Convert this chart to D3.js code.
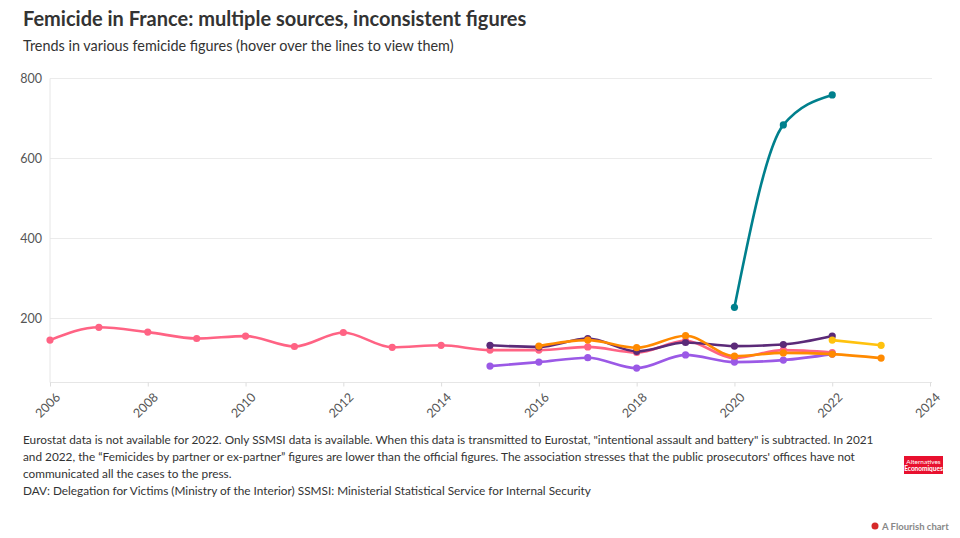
<!DOCTYPE html>
<html>
<head>
<meta charset="utf-8">
<script src="https://cdn.jsdelivr.net/npm/d3@7.9.0/dist/d3.min.js"></script>
<style>
  body { margin: 0; background: #fff; font-family: Lato, "Open Sans", sans-serif; }
  svg text { font-family: Lato, "Open Sans", sans-serif; }
</style>
</head>
<body>
<svg id="chart" width="960" height="538"></svg>
<script>
// ticks
const xTicks = [2006, 2008, 2010, 2012, 2014, 2016, 2018, 2020, 2022, 2024];
const yTicks = [200, 400, 600, 800];

// series values
const pinkYears = d3.range(2006, 2023);
const pinkValues = [146, 178, 166, 150, 156, 130, 165, 128, 133, 121, 121, 129, 115, 144, 101, 121, 115];
const darkYears = d3.range(2015, 2023);
const darkValues = [133, 129, 150, 118, 140, 131, 135, 156];
const purpleYears = d3.range(2015, 2023);
const purpleValues = [81, 91, 102, 76, 109, 91, 96, 111];
const orangeYears = d3.range(2016, 2024);
const orangeValues = [131, 146, 127, 157, 106, 114, 111, 101];
const yellowYears = [2022, 2023];
const yellowValues = [146, 133];
const tealYears = [2020, 2021, 2022];
const tealValues = [228, 684, 759];

const series = [
  { color: "#ff6384", years: pinkYears, values: pinkValues },
  { color: "#9b59e6", years: purpleYears, values: purpleValues },
  { color: "#5b2a78", years: darkYears, values: darkValues },
  { color: "#ff8a00", years: orangeYears, values: orangeValues },
  { color: "#ffc20e", years: yellowYears, values: yellowValues },
  { color: "#00808d", years: tealYears, values: tealValues },
];

const svg = d3.select("#chart");

// titles
svg.append("text").attr("x", 23).attr("y", 26)
  .attr("font-size", 20).attr("font-weight", 700).attr("fill", "#333")
  .text("Femicide in France: multiple sources, inconsistent figures");
svg.append("text").attr("x", 23).attr("y", 51)
  .attr("font-size", 14.4).attr("fill", "#333")
  .text("Trends in various femicide figures (hover over the lines to view them)");

const plotLeft = 50, plotRight = 930, plotTop = 78.5, plotBottom = 382.5;

let x = d3.scaleLinear().domain([2006, 2024]).range([plotLeft, plotRight]);
let y = d3.scaleLinear().domain([40, 800]).range([plotBottom, plotTop]);

// gridlines
svg.append("g").selectAll("line").data(yTicks).join("line")
  .attr("x1", plotLeft).attr("x2", plotRight + 2)
  .attr("y1", d => y(d)).attr("y2", d => y(d))
  .attr("stroke", "#ebebeb").attr("stroke-width", 1);
svg.append("line").attr("x1", plotLeft).attr("x2", plotRight + 2)
  .attr("y1", plotBottom).attr("y2", plotBottom).attr("stroke", "#e6e6e6");
svg.append("line").attr("x1", plotLeft).attr("x2", plotLeft)
  .attr("y1", plotTop).attr("y2", plotBottom).attr("stroke", "#e6e6e6");

// y axis
let yAxis = svg.append("g").attr("transform", `translate(${plotLeft},0)`)
  .call(d3.axisLeft(y).tickValues(yTicks).tickSize(0).tickPadding(8));
yAxis.select(".domain").remove();
yAxis.selectAll("text").attr("font-size", 12.5).attr("fill", "#555")
  .attr("font-family", "Lato, sans-serif");

// x axis
let xAxis = svg.append("g").attr("transform", `translate(0,${plotBottom})`)
  .call(d3.axisBottom(x).tickValues(xTicks).tickFormat(d3.format("d")).tickSize(4));
xAxis.select(".domain").remove();
xAxis.selectAll("line").attr("stroke", "#ddd");
xAxis.selectAll("text")
  .attr("font-size", 12.5).attr("fill", "#555").attr("font-family", "Lato, sans-serif")
  .attr("text-anchor", "end").attr("dy", "0.3em")
  .attr("transform", "translate(3,8) rotate(-45)");

// lines and points
let line = d3.line().curve(d3.curveMonotoneX)
  .x(d => x(d[0])).y(d => y(d[1]));

series.forEach(s => {
  let pts = s.years.map((yr, i) => [yr, s.values[i]]);
  svg.append("path").datum(pts)
    .attr("d", line).attr("fill", "none")
    .attr("stroke", s.color).attr("stroke-width", 2.6)
    .attr("stroke-linejoin", "round");
  svg.append("g").selectAll("circle").data(pts).join("circle")
    .attr("cx", d => x(d[0])).attr("cy", d => y(d[1]))
    .attr("r", 3.6).attr("fill", s.color);
});

// footer notes
const notes = [
  "Eurostat data is not available for 2022. Only SSMSI data is available. When this data is transmitted to Eurostat, \"intentional assault and battery\" is subtracted. In 2021",
  "and 2022, the \u201cFemicides by partner or ex-partner\u201d figures are lower than the official figures. The association stresses that the public prosecutors' offices have not",
  "communicated all the cases to the press.",
  "DAV: Delegation for Victims (Ministry of the Interior) SSMSI: Ministerial Statistical Service for Internal Security",
];
svg.append("g").selectAll("text").data(notes).join("text")
  .attr("x", 23).attr("y", (d, i) => 444 + i * 17)
  .attr("font-size", 11.8).attr("fill", "#333")
  .text(d => d);

// logo
let logo = svg.append("g").attr("transform", "translate(904,456)");
logo.append("rect").attr("width", 39).attr("height", 18).attr("fill", "#e8102e");
logo.append("text").attr("x", 19.5).attr("y", 7.5).attr("text-anchor", "middle")
  .attr("font-size", 6.5).attr("fill", "#fff").text("Alternatives");
logo.append("text").attr("x", 19.5).attr("y", 15).attr("text-anchor", "middle")
  .attr("font-size", 6.5).attr("font-weight", 700).attr("fill", "#fff").text("Economiques");

// flourish credit
svg.append("circle").attr("cx", 875).attr("cy", 526).attr("r", 3.5).attr("fill", "#d62a2a");
svg.append("text").attr("x", 882).attr("y", 529.5)
  .attr("font-size", 9.5).attr("font-weight", 700).attr("fill", "#888")
  .text("A Flourish chart");
</script>
</body>
</html>
